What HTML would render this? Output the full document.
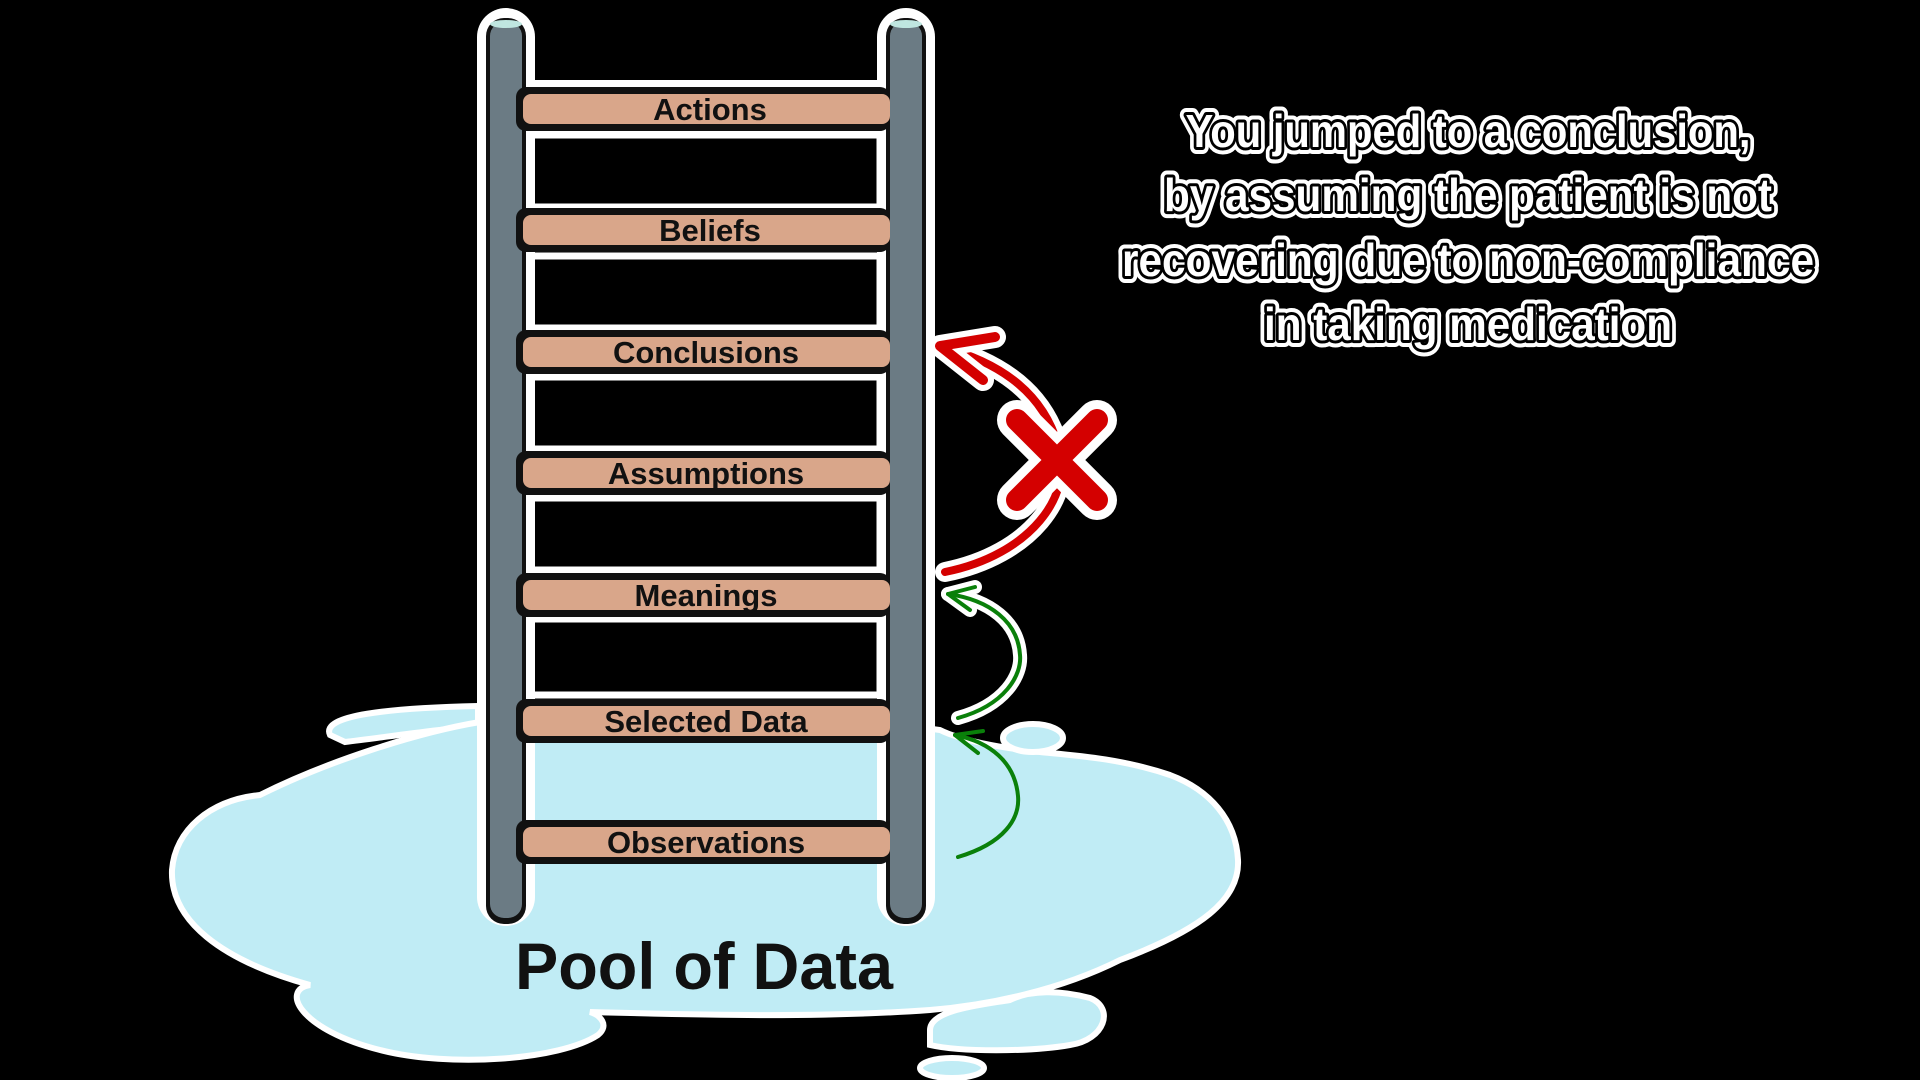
<!DOCTYPE html>
<html><head><meta charset="utf-8"><style>
html,body{margin:0;padding:0;background:#000;}
svg{display:block}
.lbl{font-family:"Liberation Sans",sans-serif;font-weight:bold;font-size:31px;fill:#111;text-anchor:middle}
.big{font-family:"Liberation Sans",sans-serif;font-weight:bold;font-size:46px;fill:#fff;text-anchor:middle}
</style></head><body>
<svg width="1920" height="1080" viewBox="0 0 1920 1080" xmlns="http://www.w3.org/2000/svg">
<rect width="1920" height="1080" fill="#000"/>
<g fill="#c0ecf5" stroke="#fff" stroke-width="6">
<path d="M330,735 C320,715 390,708 478,706 L478,726 C430,730 380,738 345,742 Z"/>
<path d="M480,722 C420,732 330,760 260,795 C210,800 175,830 172,870 C170,920 220,960 310,985 C280,990 300,1030 380,1050 C450,1068 560,1060 598,1035 C610,1025 600,1015 590,1012 C700,1015 820,1018 930,1010 C990,1005 1060,990 1120,960 C1200,930 1240,900 1238,860 C1236,820 1210,790 1170,775 C1120,758 1070,755 1040,752 C1000,748 960,740 940,730 L880,722 Z"/>
<ellipse cx="1033" cy="738" rx="30" ry="14"/>
<path d="M930,1030 C930,1010 980,1005 1010,1000 C1030,990 1060,990 1090,998 C1115,1008 1105,1040 1070,1045 C1030,1052 960,1052 930,1045 Z"/>
<ellipse cx="952" cy="1068" rx="32" ry="10"/>
</g>
<rect x="477" y="80" width="458" height="60" fill="#fff"/>
<g fill="#000" stroke="#fff" stroke-width="7">
<rect x="531" y="135" width="349" height="72"/>
<rect x="531" y="256" width="349" height="72"/>
<rect x="531" y="377" width="349" height="72"/>
<rect x="531" y="498" width="349" height="72"/>
<rect x="531" y="619" width="349" height="76"/>
</g>
<g>
<rect x="477" y="8" width="58" height="918" rx="29" fill="#fff"/>
<rect x="877" y="8" width="58" height="918" rx="29" fill="#fff"/>
<rect x="486" y="18" width="40" height="906" rx="18" fill="#111"/>
<rect x="490" y="22" width="32" height="896" rx="14" fill="#6b7b84"/>
<ellipse cx="506" cy="24" rx="16" ry="4" fill="#bfe6e0"/>
<rect x="886" y="18" width="40" height="906" rx="18" fill="#111"/>
<rect x="890" y="22" width="32" height="896" rx="14" fill="#6b7b84"/>
<ellipse cx="906" cy="24" rx="16" ry="4" fill="#bfe6e0"/>
</g>
<g>
<g transform="translate(0,109)"><rect x="516" y="-22" width="374" height="44" rx="10" fill="#111"/><rect x="523" y="-15" width="367" height="30" rx="8" fill="#d9a68a"/><text class="lbl" x="710" y="11">Actions</text></g>
<g transform="translate(0,230)"><rect x="516" y="-22" width="374" height="44" rx="10" fill="#111"/><rect x="523" y="-15" width="367" height="30" rx="8" fill="#d9a68a"/><text class="lbl" x="710" y="11">Beliefs</text></g>
<g transform="translate(0,352)"><rect x="516" y="-22" width="374" height="44" rx="10" fill="#111"/><rect x="523" y="-15" width="367" height="30" rx="8" fill="#d9a68a"/><text class="lbl" x="706" y="11">Conclusions</text></g>
<g transform="translate(0,473)"><rect x="516" y="-22" width="374" height="44" rx="10" fill="#111"/><rect x="523" y="-15" width="367" height="30" rx="8" fill="#d9a68a"/><text class="lbl" x="706" y="11">Assumptions</text></g>
<g transform="translate(0,595)"><rect x="516" y="-22" width="374" height="44" rx="10" fill="#111"/><rect x="523" y="-15" width="367" height="30" rx="8" fill="#d9a68a"/><text class="lbl" x="706" y="11">Meanings</text></g>
<g transform="translate(0,721)"><rect x="516" y="-22" width="374" height="44" rx="10" fill="#111"/><rect x="523" y="-15" width="367" height="30" rx="8" fill="#d9a68a"/><text class="lbl" x="706" y="11">Selected Data</text></g>
<g transform="translate(0,842)"><rect x="516" y="-22" width="374" height="44" rx="10" fill="#111"/><rect x="523" y="-15" width="367" height="30" rx="8" fill="#d9a68a"/><text class="lbl" x="706" y="11">Observations</text></g>
</g>
<text x="704" y="989" font-family="Liberation Sans,sans-serif" font-weight="bold" font-size="66" fill="#111" text-anchor="middle" textLength="378" lengthAdjust="spacingAndGlyphs">Pool of Data</text>
<g fill="none" stroke-linecap="round" stroke-linejoin="round">
<path d="M945,572 C1030,555 1075,495 1058,445 C1045,400 1010,365 942,347" stroke="#fff" stroke-width="20"/>
<path d="M945,572 C1030,555 1075,495 1058,445 C1045,400 1010,365 942,347" stroke="#d40000" stroke-width="8"/>
<path d="M995,337 L940,346 L983,380" stroke="#fff" stroke-width="22"/>
<path d="M995,337 L940,346 L983,380" stroke="#d40000" stroke-width="10"/>
<path d="M1017,420 L1097,500 M1097,420 L1017,500" stroke="#fff" stroke-width="40"/>
<path d="M1017,420 L1097,500 M1097,420 L1017,500" stroke="#d40000" stroke-width="22"/>
<path d="M958,718 C1005,705 1022,675 1020,655 C1018,622 990,600 948,594" stroke="#fff" stroke-width="14"/>
<path d="M975,587 L948,594 L970,610" stroke="#fff" stroke-width="14"/>
<path d="M958,718 C1005,705 1022,675 1020,655 C1018,622 990,600 948,594" stroke="#0a800a" stroke-width="4"/>
<path d="M975,587 L948,594 L970,610" stroke="#0a800a" stroke-width="4"/>
<path d="M958,857 C1005,843 1020,818 1018,796 C1015,762 990,742 955,735" stroke="#0a800a" stroke-width="4"/>
<path d="M983,731 L955,735 L978,753" stroke="#0a800a" stroke-width="4"/>
</g>
<g class="big" style="paint-order:stroke fill" stroke-linejoin="round">
<g stroke="#fff" stroke-width="14">
<text x="1468" y="147" textLength="565" lengthAdjust="spacingAndGlyphs">You jumped to a conclusion,</text>
<text x="1468" y="211" textLength="608" lengthAdjust="spacingAndGlyphs">by assuming the patient is not</text>
<text x="1468" y="276" textLength="692" lengthAdjust="spacingAndGlyphs">recovering due to non-compliance</text>
<text x="1468" y="340" textLength="408" lengthAdjust="spacingAndGlyphs">in taking medication</text>
</g>
<g stroke="#000" stroke-width="6">
<text x="1468" y="147" textLength="565" lengthAdjust="spacingAndGlyphs">You jumped to a conclusion,</text>
<text x="1468" y="211" textLength="608" lengthAdjust="spacingAndGlyphs">by assuming the patient is not</text>
<text x="1468" y="276" textLength="692" lengthAdjust="spacingAndGlyphs">recovering due to non-compliance</text>
<text x="1468" y="340" textLength="408" lengthAdjust="spacingAndGlyphs">in taking medication</text>
</g>
</g>
</svg>
</body></html>
